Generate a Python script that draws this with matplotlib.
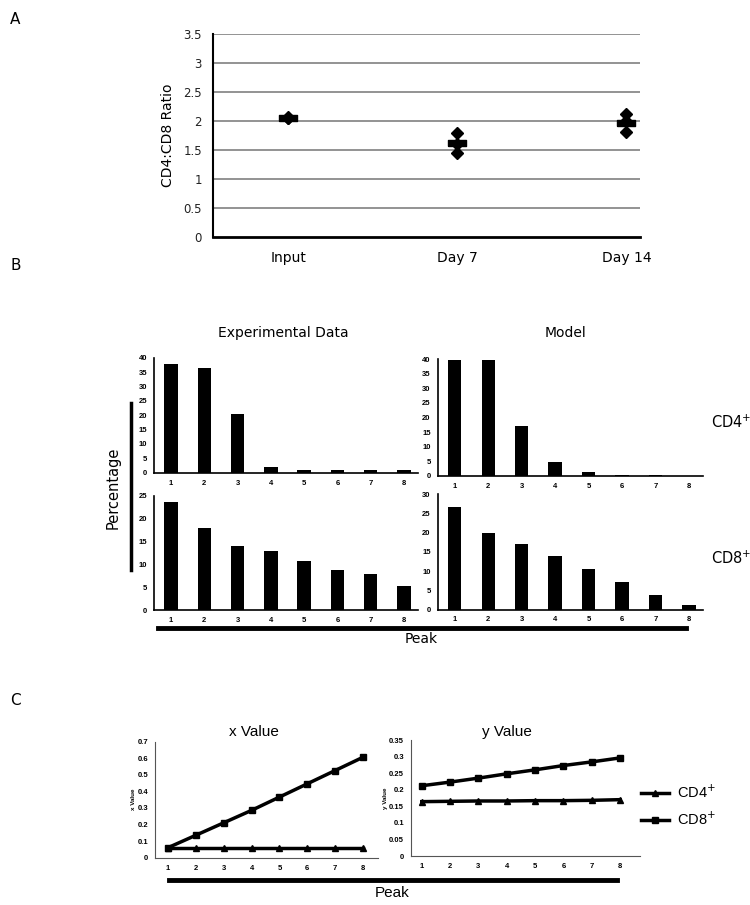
import matplotlib
matplotlib.use("Agg")
import matplotlib.pyplot as plt
from matplotlib.lines import Line2D
import numpy as np

# ---- data ----
groups = ['Input', 'Day 7', 'Day 14']
ratio_points = [[2.05, 2.04, 2.06], [1.79, 1.60, 1.44], [2.11, 1.99, 1.80]]
ratio_means = [2.05, 1.61, 1.97]

peaks = [1, 2, 3, 4, 5, 6, 7, 8]
exp_cd4 = [37.7, 36.4, 20.5, 1.9, 0.8, 0.8, 0.9, 0.8]
model_cd4 = [39.6, 39.6, 17.2, 4.6, 1.3, 0.4, 0.1, 0.05]
exp_cd8 = [23.7, 17.9, 13.9, 13.0, 10.8, 8.7, 7.8, 5.3]
model_cd8 = [26.8, 20.0, 17.0, 14.0, 10.6, 7.1, 3.7, 1.2]

x_cd4 = [0.055, 0.055, 0.055, 0.055, 0.055, 0.055, 0.055, 0.055]
x_cd8 = [0.06, 0.135, 0.21, 0.285, 0.365, 0.445, 0.525, 0.605]
y_cd4 = [0.164, 0.165, 0.166, 0.166, 0.167, 0.167, 0.168, 0.170]
y_cd8 = [0.212, 0.223, 0.235, 0.248, 0.260, 0.273, 0.284, 0.296]

W, H = 750, 905
fig = plt.figure(figsize=(W / 100, H / 100), dpi=100)


def box(l, t, r, b):
    return [l / W, 1 - b / H, (r - l) / W, (b - t) / H]


def ftext(x, y, s, **kw):
    fig.text(x / W, 1 - y / H, s, **kw)


main_font = 'DejaVu Sans'
small = dict(family='Liberation Sans', weight='bold', size=5.5)

# ---- panel A ----
axA = fig.add_axes(box(213, 33.6, 640, 237))
xpos = np.arange(len(groups))
for i, pts in enumerate(ratio_points):
    axA.plot([xpos[i]] * len(pts), pts, 'D', color='black', markersize=6, zorder=3)
rect = [(-1.3, -0.45), (1.3, -0.45), (1.3, 0.45), (-1.3, 0.45), (-1.3, -0.45)]
axA.plot(xpos, ratio_means, linestyle='none', marker=rect, markersize=13,
         color='black', zorder=4)
axA.set_xlim(-0.444, 2.08)
axA.set_ylim(0, 3.5)
yt = np.arange(0, 3.51, 0.5)
axA.set_yticks(yt)
axA.set_yticklabels(['%g' % v for v in yt], family=main_font, fontsize=8.5, color='#222222')
axA.set_xticks(xpos)
axA.set_xticklabels(groups, family=main_font, fontsize=10)
axA.tick_params(length=0, axis='y', pad=8)
axA.tick_params(length=0, axis='x', pad=10)
for v in yt[1:]:
    axA.axhline(v, color='#8a8a8a', lw=1.3, zorder=1)
for s in ['top', 'right']:
    axA.spines[s].set_visible(False)
axA.spines['left'].set_linewidth(1.5)
axA.spines['bottom'].set_linewidth(2)
axA.set_ylabel('CD4:CD8 Ratio', family=main_font, fontsize=10, labelpad=6)

# ---- panel B ----
b_axes = [
    (box(154, 357.7, 418, 472.7), exp_cd4, 40),
    (box(437.7, 359.3, 703, 475.7), model_cd4, 40),
    (box(154, 495.7, 418, 610), exp_cd8, 25),
    (box(437.7, 494.3, 703, 609.5), model_cd8, 30),
]
for rectB, vals, top in b_axes:
    ax = fig.add_axes(rectB)
    ax.bar(peaks, vals, width=0.4, color='black')
    ax.set_xlim(0.49, 8.42)
    ax.set_ylim(0, top)
    ax.set_xticks(peaks)
    ax.set_yticks(np.arange(0, top + 1, 5))
    for lab in ax.get_xticklabels() + ax.get_yticklabels():
        lab.set_fontproperties(small)
    ax.tick_params(length=0, pad=5)
    for s in ['top', 'right']:
        ax.spines[s].set_visible(False)
    ax.spines['left'].set_linewidth(1.2)
    ax.spines['bottom'].set_linewidth(1.2)

ftext(283, 333, 'Experimental Data', family=main_font, fontsize=10, ha='center', va='center')
ftext(565, 333, 'Model', family=main_font, fontsize=10, ha='center', va='center')
ftext(711, 422, 'CD4$^{+}$', family=main_font, fontsize=10.5, ha='left', va='center')
ftext(711, 558, 'CD8$^{+}$', family=main_font, fontsize=10.5, ha='left', va='center')
ftext(113, 488, 'Percentage', family=main_font, fontsize=10.5, rotation=90,
      ha='center', va='center')
fig.add_artist(Line2D([131 / W, 131 / W], [1 - 403 / H, 1 - 570 / H], color='black', lw=2.5))
fig.add_artist(Line2D([158 / W, 686 / W], [1 - 628 / H, 1 - 628 / H], color='black', lw=3.5))
ftext(421, 639, 'Peak', family=main_font, fontsize=10, ha='center', va='center')

# ---- panel C ----
axX = fig.add_axes(box(155, 741.5, 378, 857.6))
axY = fig.add_axes(box(411, 740, 640, 856))
lnA, = axX.plot(peaks, x_cd4, color='black', lw=2.5, marker='^', markersize=5)
lnB, = axX.plot(peaks, x_cd8, color='black', lw=2.5, marker='s', markersize=5)
axY.plot(peaks, y_cd4, color='black', lw=2.5, marker='^', markersize=5)
axY.plot(peaks, y_cd8, color='black', lw=2.5, marker='s', markersize=5)
axX.set_xlim(0.53, 8.54)
axX.set_ylim(0, 0.7)
axX.set_yticks(np.arange(0, 0.71, 0.1))
axY.set_xlim(0.62, 8.7)
axY.set_ylim(0, 0.35)
axY.set_yticks(np.arange(0, 0.351, 0.05))
for ax, lab in [(axX, 'x Value'), (axY, 'y Value')]:
    ax.set_xticks(peaks)
    ax.set_yticklabels(['%g' % round(v, 2) for v in ax.get_yticks()])
    for t in ax.get_xticklabels() + ax.get_yticklabels():
        t.set_fontproperties(small)
    ax.tick_params(length=0, pad=5)
    for s in ['top', 'right']:
        ax.spines[s].set_visible(False)
    ax.spines['left'].set_color('#555555')
    ax.spines['bottom'].set_color('#555555')
    ax.set_ylabel(lab, family='Liberation Sans', weight='bold', fontsize=4.5, labelpad=1)
ftext(254, 732, 'x Value', family='Liberation Sans', fontsize=11, ha='center', va='center')
ftext(507, 732, 'y Value', family='Liberation Sans', fontsize=11, ha='center', va='center')
fig.legend([lnA, lnB], ['CD4$^{+}$', 'CD8$^{+}$'], loc='center left',
           bbox_to_anchor=(641 / W, 1 - 806 / H), frameon=False, handlelength=1.9,
           handletextpad=0.55, borderpad=0, borderaxespad=0,
           prop=dict(family='Liberation Sans', size=10.5), labelspacing=0.7)
fig.add_artist(Line2D([169 / W, 617 / W], [1 - 880 / H, 1 - 880 / H], color='black', lw=3.5))
ftext(392, 893, 'Peak', family='Liberation Sans', fontsize=11, ha='center', va='center')

# panel letters
ftext(10, 20, 'A', family=main_font, fontsize=11, ha='left', va='center')
ftext(10, 265, 'B', family=main_font, fontsize=11, ha='left', va='center')
ftext(10, 700, 'C', family=main_font, fontsize=11, ha='left', va='center')

fig.savefig('out.png', dpi=100)
